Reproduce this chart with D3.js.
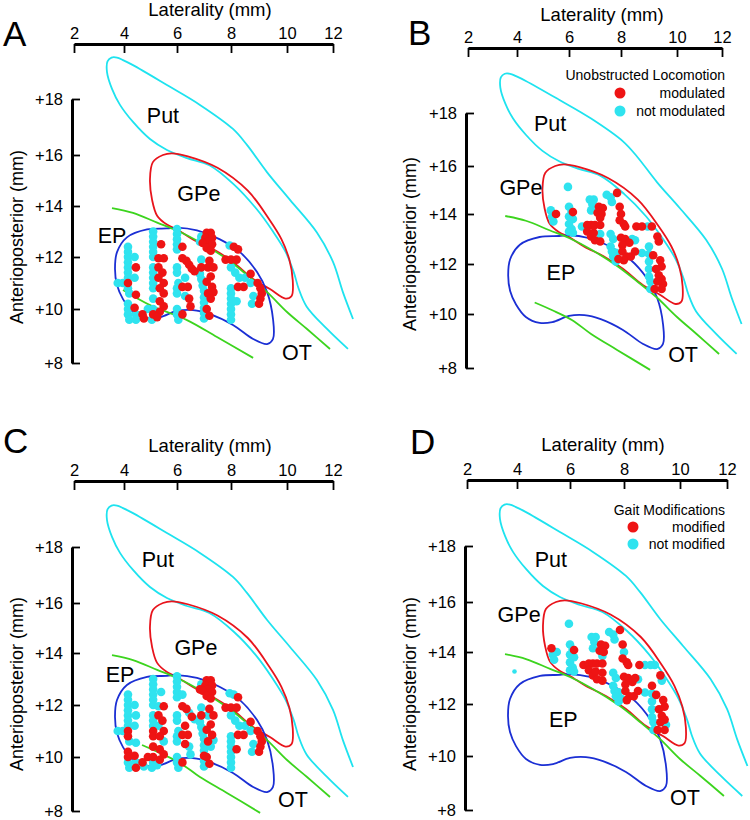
<!DOCTYPE html>
<html>
<head>
<meta charset="utf-8">
<script src="https://cdn.jsdelivr.net/npm/d3@7"></script>
<style>
  body { margin: 0; background: #fff; }
  svg text { font-family: "Liberation Sans", Arial, sans-serif; fill: #000; }
  .domain { stroke: #000; stroke-width: 3; }
  .tick line { stroke: #000; stroke-width: 1.8; }
  .tick text { font-size: 16.5px; }
</style>
</head>
<body>
<svg id="chart" width="750" height="820"></svg>
<script>
var latTicks = [2, 4, 6, 8, 10, 12];
var apTicks = [8, 10, 12, 14, 16, 18];

// atlas outlines, [laterality, AP] in mm
var putOutline = [[12.65,8.52],[11.74,9.26],[10.85,10.1],[10.5,10.8],[10.3,11.4],[9.95,12.2],[9.5,13.0],[8.9,13.9],
  [8.1,14.85],[7.2,15.6],[6.37,15.88],[5.62,16.18],[4.98,16.57],[4.34,17.18],[3.84,17.79],[3.52,18.36],[3.32,18.96],
  [3.34,19.34],[3.5,19.48],[3.72,19.48],[3.96,19.39],[4.34,19.21],[5.62,18.5],[6.85,17.79],[8.07,16.93],[8.57,16.36],
  [9.29,15.32],[10.13,14.24],[11.3,12.96],[12.0,11.81],[12.43,10.65],[12.87,9.63]];
var gpeOutline = [[5.47,16.0],[5.09,15.72],[4.98,15.04],[5.06,14.24],[5.25,13.62],[5.62,13.27],[6.0,13.08],[6.59,12.69],
  [7.33,12.31],[8.07,11.81],[8.79,11.15],[9.39,10.77],[9.95,10.4],[10.2,10.5],[10.25,11.1],[10.1,11.9],[9.8,12.7],
  [9.35,13.5],[8.6,14.6],[7.5,15.5],[6.4,15.95],[5.8,16.06]];
var epOutline = [[5.62,13.12],[4.87,13.08],[4.11,12.77],[3.72,12.19],[3.64,11.54],[3.72,10.92],[3.96,10.38],[4.34,9.89],
  [4.87,9.67],[5.36,9.7],[6.0,9.93],[6.59,9.96],[7.22,9.81],[8.07,9.41],[8.79,8.89],[9.29,8.7],[9.5,8.89],[9.5,9.63],
  [9.29,10.65],[8.93,11.42],[8.32,12.19],[7.59,12.69],[6.74,13.04],[6.0,13.15]];
var otUpper = [[3.52,13.92],[4.34,13.73],[5.25,13.35],[6.0,13.04],[6.85,12.58],[7.85,11.92],[8.57,11.31],[9.29,10.65],
  [10.0,9.89],[10.87,9.26],[11.87,8.52]];
var otLower = [[4.68,10.46],[5.36,10.15],[6.11,9.78],[6.85,9.26],[7.85,8.67],[9.04,7.93]];
var otLowerA = [[3.96,10.73],[4.98,10.15],[6.37,9.59],[7.48,8.96],[8.79,8.19]];

// EP sites: [laterality, AP, modulated (A), modified (C)]
var epSites = [
  [3.75,11.0,0,0],[3.95,11.0,0,0],
  [4.15,12.4,0,0],[4.15,12.2,0,0],[4.15,12.0,0,0],[4.15,11.8,0,0],[4.15,11.6,0,0],[4.15,11.4,0,0],[4.15,11.2,0,0],
  [4.15,11.0,1,1],[4.15,10.8,0,1],[4.2,10.6,0,0],[4.15,10.2,0,1],[4.15,10.0,0,1],[4.15,9.8,0,0],[4.2,9.6,0,0],
  [4.4,12.0,0,0],[4.45,11.6,1,0],[4.4,11.2,0,0],[4.45,10.55,1,0],[4.4,10.05,1,1],[4.45,9.8,0,0],[4.45,9.6,0,1],
  [4.7,9.8,1,1],[4.75,9.65,1,0],[4.9,10.0,0,1],
  [5.1,13.0,0,0],[5.1,12.8,0,0],[5.1,12.6,0,0],[5.1,12.4,0,0],[5.1,12.2,0,0],[5.1,12.0,0,0],[5.1,11.6,0,0],
  [5.1,11.4,0,0],[5.1,11.2,0,0],[5.1,11.0,0,1],[5.1,10.8,0,1],[5.1,10.4,0,1],[5.1,10.0,0,1],[5.1,9.8,1,0],[5.05,9.6,0,0],
  [5.4,12.5,1,0],[5.3,11.95,1,0],[5.5,11.95,1,1],[5.3,11.6,1,1],[5.45,11.4,1,1],[5.3,11.2,1,0],[5.5,11.0,1,1],
  [5.35,10.8,1,1],[5.5,10.6,1,0],[5.35,10.3,1,1],[5.5,10.1,1,1],[5.35,9.9,1,1],[5.25,9.7,1,0],
  [6.0,13.1,0,0],[6.0,12.9,0,0],[6.0,12.7,0,0],[6.0,12.5,0,0],[6.0,12.3,0,0],[6.2,12.4,1,0],[6.0,11.6,0,0],
  [6.0,11.4,0,0],[6.05,11.0,0,0],[6.0,10.8,0,0],[6.0,10.6,0,0],[6.0,10.0,0,0],[6.0,9.8,0,0],[6.05,9.6,0,0],
  [6.2,11.95,1,1],[6.35,11.85,1,1],[6.45,11.7,1,0],[6.55,11.55,1,1],[6.65,11.45,1,0],[6.2,10.85,1,1],[6.4,10.85,1,1],
  [6.3,10.5,0,1],[6.45,10.4,1,0],[6.5,10.1,1,0],[6.2,9.8,1,1],[6.3,11.2,0,1],
  [6.9,12.8,0,0],[6.85,12.6,0,1],[7.1,12.95,1,1],[7.25,12.95,1,1],[7.05,12.75,1,1],[7.3,12.75,1,1],[7.15,12.6,1,1],
  [6.95,12.55,1,1],[7.3,12.5,1,1],[7.1,12.35,1,1],[7.25,12.25,1,1],
  [6.9,11.9,0,0],[6.9,11.15,0,0],[6.95,10.9,0,0],[7.0,10.7,0,0],[7.0,10.45,0,0],[7.0,10.25,0,0],[7.0,10.05,0,1],
  [7.0,9.85,0,0],[7.0,9.65,0,0],
  [7.2,11.85,1,1],[6.9,11.6,1,1],[7.15,11.6,1,0],[7.35,11.6,1,1],[6.85,11.35,0,0],[7.25,11.25,1,1],[7.1,11.05,1,1],
  [7.3,10.85,1,1],[7.35,10.65,1,0],[7.15,10.6,1,1],[7.25,10.4,1,0],[7.1,10.0,1,1],[7.2,9.75,1,1],
  [7.95,12.45,0,0],[8.1,12.4,1,0],[8.25,12.3,1,1],[7.8,11.9,1,1],[8.0,11.9,1,1],[8.2,11.9,1,1],[8.0,11.6,0,0],
  [8.15,11.4,0,0],[8.3,11.2,0,0],[8.0,10.8,0,0],[8.0,10.6,0,0],[8.0,10.4,0,0],[8.0,10.2,0,0],[8.0,10.0,0,0],
  [8.0,9.8,0,0],[8.0,9.6,0,0],[8.25,10.85,1,1],[8.45,10.85,1,1],[8.2,10.3,0,1],
  [8.5,11.2,0,0],[8.7,11.0,0,0],[8.8,10.5,0,0],[8.75,10.2,0,0],[8.7,11.35,1,1],[8.95,11.0,1,1],[9.05,10.8,1,1],
  [9.1,10.6,1,1],[9.05,10.4,1,1],[9.0,10.2,1,1]
];

// GPe sites: [laterality, AP, modulated (B), modified (D)]
var gpeSites = [
  [5.96,15.13,0,0],[5.3,14.15,0,1],[5.5,14.0,1,0],[5.35,13.9,0,0],[5.4,13.7,0,0],
  [6.0,14.3,0,0],[6.1,14.1,0,0],[6.15,14.08,1,1],[6.0,13.9,0,0],[6.15,13.8,0,0],[6.0,13.6,0,0],[6.1,13.4,0,0],
  [6.0,13.3,0,0],[6.15,13.25,0,0],[6.5,13.5,0,1],
  [6.8,14.6,0,0],[6.95,14.6,0,0],[6.9,14.4,0,0],[6.85,14.15,0,0],
  [7.15,14.3,1,1],[7.3,14.25,1,1],[7.1,14.05,1,1],[7.25,14.0,1,1],[7.2,13.85,1,0],
  [6.7,13.56,1,1],[6.85,13.56,1,1],[7.0,13.56,1,1],[7.2,13.56,1,1],
  [6.7,13.3,1,1],[6.85,13.1,1,1],[7.0,12.95,1,1],[7.2,12.9,1,1],[6.95,13.25,1,1],[7.2,13.2,0,1],
  [7.45,14.8,0,0],[7.6,14.7,0,0],[7.65,14.5,0,0],[7.85,14.88,1,1],
  [7.95,14.3,1,1],[8.0,14.0,1,0],[7.95,13.75,1,1],[8.1,13.6,1,1],[8.15,13.5,1,1],
  [7.6,13.2,0,0],[7.7,13.0,0,0],[7.6,12.7,0,0],[7.65,12.5,0,0],[7.8,12.45,0,0],[7.7,12.3,0,0],[7.8,12.1,0,0],
  [8.0,13.05,1,1],[8.15,13.0,1,1],[8.3,12.85,1,1],[8.05,12.75,1,1],[8.05,12.5,1,1],[8.2,12.3,1,1],[8.35,12.3,1,1],
  [8.1,12.15,1,1],[7.9,12.2,1,0],
  [8.55,13.5,1,1],[8.75,13.5,1,0],[8.4,13.0,0,1],[8.5,12.95,0,0],[8.5,12.5,1,1],[8.75,12.44,0,0],
  [9.1,13.5,1,0],[8.95,13.5,0,0],[9.3,13.1,1,1],[9.35,12.9,1,0],
  [9.0,12.7,0,1],[9.0,12.4,0,0],[9.0,12.1,0,0],[9.0,11.8,0,0],[9.0,11.5,0,0],[9.05,11.3,0,0],[9.05,11.0,0,0],
  [9.15,12.35,1,1],[9.4,12.15,1,1],[9.45,11.9,1,1],[9.25,11.8,1,1],[9.35,11.55,1,1],[9.45,11.4,1,1],[9.5,11.2,1,0],
  [9.2,11.0,1,1],[9.45,11.0,1,1],[9.3,11.3,1,1]
];
var gpeExtraD = [[3.9, 13.25]];

var legendB = ["Unobstructed Locomotion", "modulated", "not modulated"];
var legendD = ["Gait Modifications", "modified", "not modified"];

var RED = "#ee1414", CYAN = "#2fe3ef";
var LINE = { put: "#1ee3ef", gpe: "#e8141c", ep: "#1b2fd4", ot: "#3cd41e" };

var panels = [
  { letter: "A", lx: 3, ly: 46, xr: [74,124,177,231,287,333], xAxisY: 44, yr: [363,309,257,206,155,99], yAxisX: 72,
    xTitle: [210, 16], yTitle: [23, 237], sites: epSites, col: 2, otLow: otLowerA,
    labels: [["Put",5.47,17.14],["GPe",6.81,14.2],["EP",3.52,12.55],["OT",10.43,8.11]] },
  { letter: "B", lx: 408, ly: 45, xr: [468,517,569,621,677,722], xAxisY: 48, yr: [368,314,264,214,166,113], yAxisX: 466,
    xTitle: [602, 21], yTitle: [416, 244], sites: gpeSites, col: 2, otLow: otLower,
    labels: [["Put",5.27,17.32],["GPe",4.15,14.79],["EP",5.69,11.36],["OT",10.27,8.22]],
    legend: legendB, legendX: 725, legendY: [80, 98, 116], legendDotX: 620, legendDotY: [93, 111] },
  { letter: "C", lx: 3, ly: 453, xr: [74,124,177,231,287,333], xAxisY: 481, yr: [811,757,705,653,603,547], yAxisX: 72,
    xTitle: [210, 452], yTitle: [23, 684], sites: epSites, col: 3, otLow: otLower,
    labels: [["Put",5.28,17.29],["GPe",6.7,13.92],["EP",3.84,12.88],["OT",10.26,8.15]] },
  { letter: "D", lx: 410, ly: 454, xr: [467,517,570,624,680,727], xAxisY: 480, yr: [810,756,704,652,602,546], yAxisX: 465,
    xTitle: [603, 451], yTitle: [416, 684], sites: gpeSites, col: 3, otLow: null, extra: gpeExtraD,
    labels: [["Put",5.28,17.25],["GPe",4.08,15.2],["EP",5.75,11.12],["OT",10.21,8.19]],
    legend: legendD, legendX: 725, legendY: [515, 532, 549], legendDotX: 633, legendDotY: [527, 544] }
];

var svg = d3.select("#chart");
svg.append("rect").attr("width", 750).attr("height", 820).attr("fill", "#fff");

panels.forEach(function (p) {
  var x = d3.scaleLinear().domain(latTicks).range(p.xr);
  var y = d3.scaleLinear().domain(apTicks).range(p.yr);
  var g = svg.append("g");

  var open = d3.line().x(function (d) { return x(d[0]); }).y(function (d) { return y(d[1]); })
    .curve(d3.curveCatmullRom.alpha(0.5));
  var closed = d3.line().x(function (d) { return x(d[0]); }).y(function (d) { return y(d[1]); })
    .curve(d3.curveCatmullRomClosed.alpha(0.5));

  g.append("text").attr("x", p.lx).attr("y", p.ly).style("font-size", "35px").text(p.letter);

  // laterality axis on top, ticks pointing down
  g.append("g").attr("transform", "translate(0," + p.xAxisY + ")")
    .call(d3.axisTop(x).tickValues(latTicks).tickSizeInner(-9).tickSizeOuter(0).tickPadding(5));
  g.append("text").attr("x", p.xTitle[0]).attr("y", p.xTitle[1]).attr("text-anchor", "middle")
    .style("font-size", "18.5px").text("Laterality (mm)");

  g.append("g").attr("transform", "translate(" + p.yAxisX + ",0)")
    .call(d3.axisLeft(y).tickValues(apTicks).tickFormat(function (d) { return "+" + d; })
      .tickSizeInner(-8).tickSizeOuter(0).tickPadding(9));
  g.append("text").attr("transform", "translate(" + p.yTitle[0] + "," + p.yTitle[1] + ") rotate(-90)")
    .attr("text-anchor", "middle").style("font-size", "18px").text("Anterioposterior (mm)");

  g.append("path").attr("d", open(putOutline)).attr("fill", "none").attr("stroke", LINE.put).attr("stroke-width", 1.8);
  g.append("path").attr("d", closed(gpeOutline)).attr("fill", "none").attr("stroke", LINE.gpe).attr("stroke-width", 1.8);
  g.append("path").attr("d", closed(epOutline)).attr("fill", "none").attr("stroke", LINE.ep).attr("stroke-width", 1.8);
  g.append("path").attr("d", open(otUpper)).attr("fill", "none").attr("stroke", LINE.ot).attr("stroke-width", 1.8);
  if (p.otLow) {
    g.append("path").attr("d", open(p.otLow)).attr("fill", "none").attr("stroke", LINE.ot).attr("stroke-width", 1.8);
  }

  g.selectAll("text.region").data(p.labels).join("text").attr("class", "region")
    .attr("x", function (d) { return x(d[1]); }).attr("y", function (d) { return y(d[2]); })
    .attr("text-anchor", "middle").style("font-size", "21.5px").text(function (d) { return d[0]; });

  var sorted = p.sites.slice().sort(function (a, b) { return a[p.col] - b[p.col]; });
  g.selectAll("circle.site").data(sorted).join("circle").attr("class", "site")
    .attr("cx", function (d) { return x(d[0]); }).attr("cy", function (d) { return y(d[1]); })
    .attr("r", 4.3).attr("fill", function (d) { return d[p.col] ? RED : CYAN; });

  if (p.extra) {
    g.selectAll("circle.extra").data(p.extra).join("circle").attr("class", "extra")
      .attr("cx", function (d) { return x(d[0]); }).attr("cy", function (d) { return y(d[1]); })
      .attr("r", 2.3).attr("fill", CYAN);
  }

  if (p.legend) {
    g.selectAll("text.legend").data(p.legend).join("text").attr("class", "legend")
      .attr("x", p.legendX).attr("y", function (d, i) { return p.legendY[i]; })
      .attr("text-anchor", "end").style("font-size", "14px").text(function (d) { return d; });
    g.selectAll("circle.key").data([RED, CYAN]).join("circle").attr("class", "key")
      .attr("cx", p.legendDotX).attr("cy", function (d, i) { return p.legendDotY[i]; })
      .attr("r", 5.5).attr("fill", function (d) { return d; });
  }
});
</script>
</body>
</html>
